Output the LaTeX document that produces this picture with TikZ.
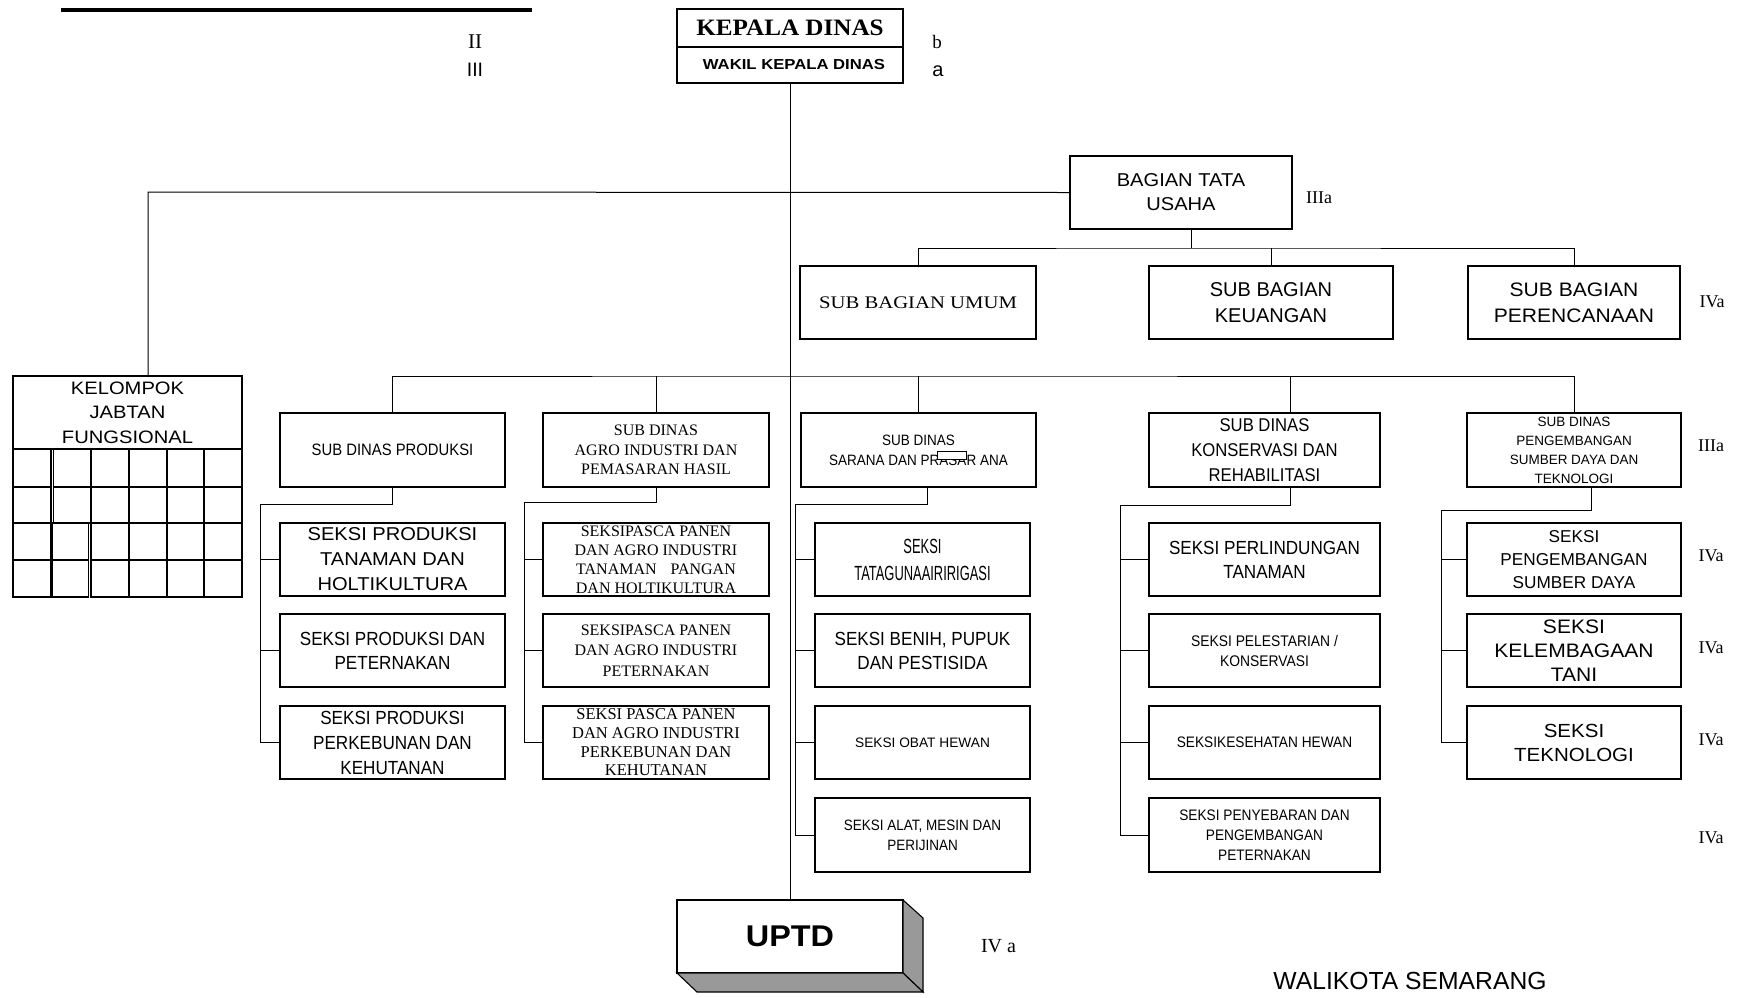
\documentclass[tikz,border=0pt]{standalone}
\usepackage{fontspec}
\setmainfont{Liberation Sans}
\newfontfamily\fSans{Liberation Sans}
\newfontfamily\fSansN[FakeStretch=0.9]{Liberation Sans}
\newfontfamily\fSansW[FakeStretch=1.08]{Liberation Sans}
\newfontfamily\fSansWW[FakeStretch=1.12]{Liberation Sans}
\newfontfamily\fSansC[FakeStretch=0.63]{Liberation Sans}
\newfontfamily\fSansWK[FakeStretch=1.15]{Liberation Sans}
\newfontfamily\fSerif{Liberation Serif}
\newfontfamily\fSerifW[FakeStretch=1.17]{Liberation Serif}
\newfontfamily\fSerifK[FakeStretch=1.07]{Liberation Serif}
\newcommand{\fzs}[2]{\fontsize{#1}{#2}\selectfont}
\tikzset{
  bx/.style={draw, line width=1.1pt, inner sep=0pt, outer sep=0pt, align=center, fill=white},
  ln/.style={line width=1pt},
  lbl/.style={inner sep=0pt, outer sep=0pt, anchor=base},
}
\begin{document}
\begin{tikzpicture}[x=1pt,y=-1pt]
\useasboundingbox (0,0) rectangle (1741,997);
\fill[white] (0,0) rectangle (1741,997);

% top rule
\coordinate (r1) at (61,10);
\coordinate (r2) at (532,10);
\draw[line width=3.2pt] (r1) -- (r2);

% level labels
\node[lbl, font={\fSerif\fzs{21}{21}}] (l2) at (475,48) {II};
\node[lbl, font={\fSans\fzs{19.5}{19.5}}] (l3) at (475,76) {III};
\node[lbl, font={\fSerif\fzs{19}{19}}] (lb) at (937,48) {b};
\node[lbl, font={\fSans\fzs{20}{20}}] (la) at (938,76) {a};

% head
\node[bx, minimum width=226pt, minimum height=38pt, font={\fSerifK\bfseries\fzs{23.5}{26}}] (kd) at (790,28) {KEPALA DINAS};
\node[bx, minimum width=226pt, minimum height=36pt, font={\fSansWK\bfseries\fzs{14.5}{16}}] (wk) at (790,65) {\hspace*{8pt}WAKIL KEPALA DINAS};

% tata usaha
\node[bx, minimum width=222pt, minimum height=73pt, font={\fSansW\fzs{18.6}{24}}] (bagian) at (1181,192.5) {BAGIAN TATA\\USAHA};
\node[lbl, font={\fSerif\fzs{18}{18}}] (lta) at (1319,203) {IIIa};
\node[bx, minimum width=236pt, minimum height=73pt, font={\fSerifW\fzs{17.7}{20}}] (umum) at (918,302.5) {SUB BAGIAN UMUM};
\node[bx, minimum width=244pt, minimum height=73pt, font={\fSans\fzs{20}{26}}] (keu) at (1271,302.5) {SUB BAGIAN\\KEUANGAN};
\node[bx, minimum width=212pt, minimum height=73pt, font={\fSansW\fzs{19.5}{26}}] (perenc) at (1574,302.5) {SUB BAGIAN\\PERENCANAAN};
\node[lbl, font={\fSerif\fzs{18}{18}}] (lpr) at (1712,307) {IVa};

% kelompok jabatan fungsional
\node[bx, minimum width=229pt, minimum height=73pt, font={\fSansWW\fzs{18}{24.5}}] (kel) at (127.5,412.5) {KELOMPOK\\JABTAN\\FUNGSIONAL};
\foreach \ya/\yb in {449/487,487/523,523/560,560/597}
  \draw[line width=1.1pt] (13,\ya) rectangle (51,\yb);
\foreach \xa/\xb in {53.6/91,91/129,129/167,167/204,204/242}{
  \draw[line width=1.1pt] (\xa,449) rectangle (\xb,487);
  \draw[line width=1.1pt] (\xa,487) rectangle (\xb,523);
}
\foreach \xa/\xb in {52.5/88.6,91/129,129/167,167/204,204/242}{
  \draw[line width=1.1pt] (\xa,523) rectangle (\xb,560);
  \draw[line width=1.1pt] (\xa,560) rectangle (\xb,597);
}

% sub dinas row
\node[bx, minimum width=225pt, minimum height=74pt, font={\fSansN\fzs{16.5}{20}}] (sd1) at (392.5,450) {SUB DINAS PRODUKSI};
\node[bx, minimum width=226pt, minimum height=74pt, font={\fSerif\fzs{16}{19.7}}] (sd2) at (656,450) {SUB DINAS\\AGRO INDUSTRI DAN\\PEMASARAN HASIL};
\node[bx, minimum width=235pt, minimum height=74pt, font={\fSansN\fzs{15}{20}}] (sd3) at (918.5,450) {SUB DINAS\\SARANA DAN PRASAR ANA};
\node[draw, fill=white, line width=0.9pt, inner sep=0pt, minimum width=29pt, minimum height=8pt] (blot) at (951.5,455) {};
\node[bx, minimum width=231pt, minimum height=74pt, font={\fSansN\fzs{18.5}{25}}] (sd4) at (1264.5,450) {SUB DINAS\\KONSERVASI DAN\\REHABILITASI};
\node[bx, minimum width=214pt, minimum height=74pt, font={\fSans\fzs{13.5}{19}}] (sd5) at (1574,450) {SUB DINAS\\PENGEMBANGAN\\SUMBER DAYA DAN\\TEKNOLOGI};
\node[lbl, font={\fSerif\fzs{18}{18}}] (l5a) at (1711,451) {IIIa};

% column 1
\node[bx, minimum width=225pt, minimum height=73pt, font={\fSansW\fzs{18.6}{25}}] (s11) at (392.5,559.5) {SEKSI PRODUKSI\\TANAMAN DAN\\HOLTIKULTURA};
\node[bx, minimum width=225pt, minimum height=73pt, font={\fSansN\fzs{19}{24}}] (s12) at (392.5,650.5) {SEKSI PRODUKSI DAN\\PETERNAKAN};
\node[bx, minimum width=225pt, minimum height=73pt, font={\fSansN\fzs{19}{25}}] (s13) at (392.5,742.5) {SEKSI PRODUKSI\\PERKEBUNAN DAN\\KEHUTANAN};

% column 2
\node[bx, minimum width=226pt, minimum height=73pt, font={\fSerif\fzs{16}{19}}] (s21) at (656,559.5) {SEKSIPASCA PANEN\\DAN AGRO INDUSTRI\\TANAMAN\hspace{14pt}PANGAN\\DAN HOLTIKULTURA};
\node[bx, minimum width=226pt, minimum height=73pt, font={\fSerif\fzs{16}{20.7}}] (s22) at (656,650.5) {SEKSIPASCA PANEN\\DAN AGRO INDUSTRI\\PETERNAKAN};
\node[bx, minimum width=226pt, minimum height=73pt, font={\fSerif\fzs{16.5}{18.7}}] (s23) at (656,742.5) {SEKSI PASCA PANEN\\DAN AGRO INDUSTRI\\PERKEBUNAN DAN\\KEHUTANAN};

% column 3
\node[bx, minimum width=215pt, minimum height=73pt, font={\fSansC\fzs{20.5}{27}}] (s31) at (922.5,559.5) {SEKSI\\TATAGUNAAIRIRIGASI};
\node[bx, minimum width=215pt, minimum height=73pt, font={\fSansN\fzs{19}{24}}] (s32) at (922.5,650.5) {SEKSI BENIH, PUPUK\\DAN PESTISIDA};
\node[bx, minimum width=215pt, minimum height=73pt, font={\fSans\fzs{13.7}{18}}] (s33) at (922.5,742.5) {SEKSI OBAT HEWAN};
\node[bx, minimum width=215pt, minimum height=74pt, font={\fSansN\fzs{15}{20}}] (s34) at (922.5,835) {SEKSI ALAT, MESIN DAN\\PERIJINAN};

% column 4
\node[bx, minimum width=231pt, minimum height=73pt, font={\fSansN\fzs{19}{24}}] (s41) at (1264.5,559.5) {SEKSI PERLINDUNGAN\\TANAMAN};
\node[bx, minimum width=231pt, minimum height=73pt, font={\fSansN\fzs{15.4}{20}}] (s42) at (1264.5,650.5) {SEKSI PELESTARIAN /\\KONSERVASI};
\node[bx, minimum width=231pt, minimum height=73pt, font={\fSansN\fzs{15.2}{20}}] (s43) at (1264.5,742.5) {SEKSIKESEHATAN HEWAN};
\node[bx, minimum width=231pt, minimum height=74pt, font={\fSansN\fzs{15.2}{20}}] (s44) at (1264.5,835) {SEKSI PENYEBARAN DAN\\PENGEMBANGAN\\PETERNAKAN};

% column 5
\node[bx, minimum width=214pt, minimum height=73pt, font={\fSans\fzs{17.2}{23.3}}] (s51) at (1574,559.5) {SEKSI\\PENGEMBANGAN\\SUMBER DAYA};
\node[bx, minimum width=214pt, minimum height=73pt, font={\fSansW\fzs{19.5}{24}}] (s52) at (1574,650.5) {SEKSI\\KELEMBAGAAN\\TANI};
\node[bx, minimum width=214pt, minimum height=73pt, font={\fSansW\fzs{19}{24}}] (s53) at (1574,742.5) {SEKSI\\TEKNOLOGI};
\node[lbl, font={\fSerif\fzs{18}{18}}] (l5b) at (1711,561) {IVa};
\node[lbl, font={\fSerif\fzs{18}{18}}] (l5c) at (1711,653) {IVa};
\node[lbl, font={\fSerif\fzs{18}{18}}] (l5d) at (1711,745) {IVa};
\node[lbl, font={\fSerif\fzs{18}{18}}] (l5e) at (1711,843) {IVa};

% UPTD
\node[bx, minimum width=226pt, minimum height=73pt, font={\fSansW\bfseries\fzs{30}{30}}] (uptd) at (790,936.5) {UPTD};
\filldraw[line width=1.1pt, fill=black!40] (uptd.north east) -- ++(20,18) -- ++(0,74) -- (uptd.south east) -- cycle;
\filldraw[line width=1.1pt, fill=black!40] (uptd.south west) -- ++(20,19) -- ++(226,0) -- (uptd.south east) -- cycle;
\node[lbl, anchor=base west, font={\fSerif\fzs{20}{20}}] (liva) at (981,952) {IV a};
\node[lbl, font={\fSans\fzs{24.7}{24.7}}] (wali) at (1410,989) {WALIKOTA SEMARANG};

% connectors
\draw[ln] (wk.south) -- (uptd.north);
\coordinate (kj) at (148,192);
\draw[ln] (bagian.west) -- (kj) -- (kj |- kel.north);
\coordinate (bd) at (1191,248);
\draw[ln] (bd |- bagian.south) -- (bd);
\draw[ln] (umum.north) |- (bd) -| (perenc.north);
\draw[ln] (keu.north) -- (keu.north |- bd);

\coordinate (sb) at (788,376);
\draw[ln] (sd1.north) |- (sb) -| (sd5.north);
\draw[ln] (sd2.north) -- (sd2.north |- sb);
\draw[ln] (sd3.north) -- (sd3.north |- sb);
\coordinate (d4) at (1290,376);
\draw[ln] (d4) -- (d4 |- sd4.north);

\coordinate (c1a) at (392.5,504); \coordinate (c1b) at (260,504);
\draw[ln] (sd1.south) -- (c1a) -- (c1b) -- (c1b |- s13.west);
\foreach \n in {s11,s12,s13} \draw[ln] (c1b |- \n.west) -- (\n.west);

\coordinate (c2a) at (656,502); \coordinate (c2b) at (524,502);
\draw[ln] (sd2.south) -- (c2a) -- (c2b) -- (c2b |- s23.west);
\foreach \n in {s21,s22,s23} \draw[ln] (c2b |- \n.west) -- (\n.west);

\coordinate (c3a) at (927,504); \coordinate (c3b) at (795,504);
\draw[ln] (c3a |- sd3.south) -- (c3a) -- (c3b) -- (c3b |- s34.west);
\foreach \n in {s31,s32,s33,s34} \draw[ln] (c3b |- \n.west) -- (\n.west);

\coordinate (c4a) at (1290,505); \coordinate (c4b) at (1120,505);
\draw[ln] (c4a |- sd4.south) -- (c4a) -- (c4b) -- (c4b |- s44.west);
\foreach \n in {s41,s42,s43,s44} \draw[ln] (c4b |- \n.west) -- (\n.west);

\coordinate (c5a) at (1591,510); \coordinate (c5b) at (1441,510);
\draw[ln] (c5a |- sd5.south) -- (c5a) -- (c5b) -- (c5b |- s53.west);
\foreach \n in {s51,s52,s53} \draw[ln] (c5b |- \n.west) -- (\n.west);
\end{tikzpicture}
\end{document}
